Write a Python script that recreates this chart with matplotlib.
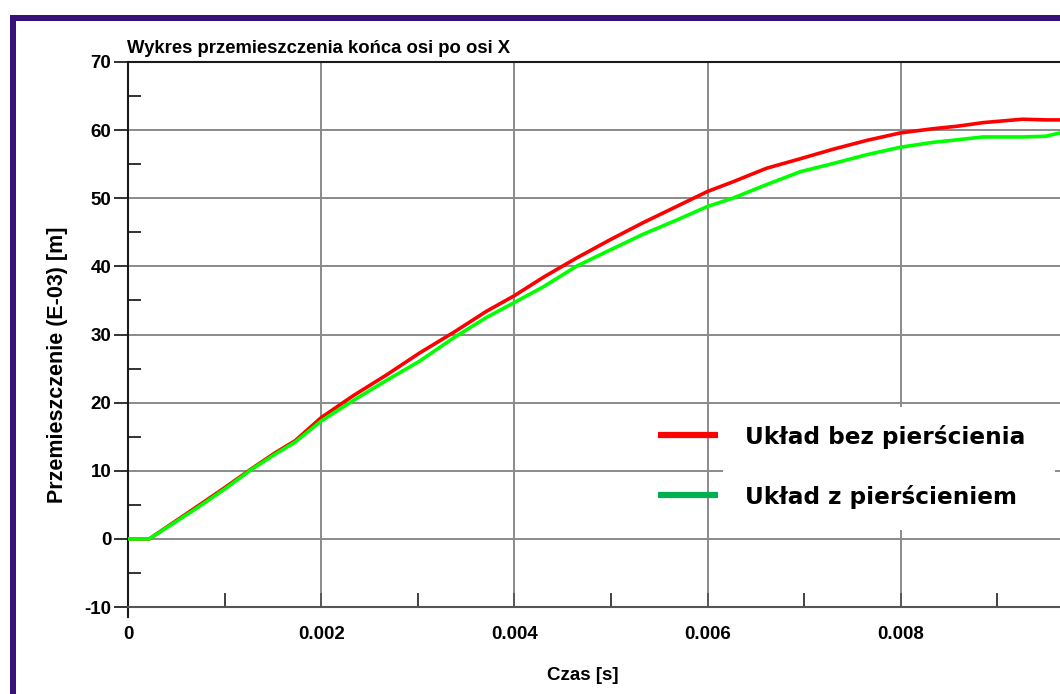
import matplotlib
matplotlib.use("Agg")
import matplotlib.pyplot as plt
from matplotlib.patches import Rectangle
from matplotlib.ticker import MultipleLocator, FixedLocator

plt.rcParams["axes.unicode_minus"] = False

# ---- data ----
time_s = [0, 0.00022, 0.00045, 0.00069, 0.001, 0.00128, 0.00152, 0.00173, 0.002,
          0.00233, 0.00268, 0.00302, 0.00337, 0.00371, 0.004, 0.0043, 0.00464,
          0.00499, 0.00533, 0.00568, 0.006, 0.00626, 0.00661, 0.00696, 0.0073,
          0.00765, 0.008, 0.00833, 0.0086, 0.00885, 0.00926, 0.0095, 0.00965]
bez_pierscienia = [0, 0, 2.2, 4.5, 7.5, 10.3, 12.6, 14.4, 17.8, 21.0, 24.1, 27.3,
                   30.3, 33.4, 35.7, 38.4, 41.2, 43.9, 46.4, 48.8, 51.0, 52.4,
                   54.4, 55.8, 57.2, 58.5, 59.6, 60.2, 60.6, 61.1, 61.6, 61.5, 61.5]
z_pierscieniem = [0, 0, 2.1, 4.3, 7.3, 10.2, 12.4, 14.2, 17.3, 20.3, 23.3, 26.1,
                  29.5, 32.5, 34.7, 37.0, 40.0, 42.4, 44.7, 46.8, 48.8, 50.0,
                  52.0, 53.9, 55.1, 56.4, 57.5, 58.2, 58.6, 59.0, 59.0, 59.1, 59.6]
x_ticks = [0, 0.002, 0.004, 0.006, 0.008]
x_tick_labels = ["0", "0.002", "0.004", "0.006", "0.008"]
y_ticks = [-10, 0, 10, 20, 30, 40, 50, 60, 70]
series_names = ["Układ bez pierścienia", "Układ z pierścieniem"]
title = "Wykres przemieszczenia końca osi po osi X"
xlabel = "Czas [s]"
ylabel = "Przemieszczenie (E-03) [m]"

W, H = 1060, 694
fig = plt.figure(figsize=(W / 100, H / 100), dpi=100)
fig.patch.set_facecolor("white")

def fx(px):
    return px / W

def fy(py):
    return 1 - py / H

ax_left, ax_right, ax_top, ax_bottom = 128, 1060, 62, 607
ax = fig.add_axes([fx(ax_left), fy(ax_bottom), fx(ax_right - ax_left), (ax_bottom - ax_top) / H])

ax.set_xlim(0, (ax_right - ax_left) / 96.6 * 0.001)
ax.set_ylim(-10, 70)

ax.plot(time_s, bez_pierscienia, color="#ff0000", lw=2.6, zorder=3, solid_capstyle="butt")
ax.plot(time_s, z_pierscieniem, color="#00ff00", lw=2.6, zorder=4, solid_capstyle="butt")

ax.xaxis.set_major_locator(FixedLocator(x_ticks))
ax.set_xticklabels(x_tick_labels)
ax.xaxis.set_minor_locator(MultipleLocator(0.001))
ax.yaxis.set_major_locator(FixedLocator(y_ticks))
ax.yaxis.set_minor_locator(MultipleLocator(5))

ax.grid(True, which="major", color="#8a8a8a", lw=1.4, zorder=1)
ax.set_axisbelow(True)

ax.spines["right"].set_visible(False)
for s in ["top", "left", "bottom"]:
    ax.spines[s].set_color("#1a1a1a")
    ax.spines[s].set_linewidth(1.5)
ax.spines["bottom"].set_color("#555555")
ax.spines["left"].set_bounds(-11.5, 70)

ax.tick_params(axis="y", which="major", direction="out", length=10, width=1.3, color="#222222", pad=2)
ax.tick_params(axis="y", which="minor", direction="in", length=9, width=1.3, color="#222222")
ax.tick_params(axis="x", which="major", direction="in", length=10, width=1.3, color="#555555", pad=14)
ax.tick_params(axis="x", which="minor", direction="in", length=10, width=1.3, color="#333333")

for lab in ax.get_xticklabels() + ax.get_yticklabels():
    lab.set_fontfamily("Liberation Sans")
    lab.set_fontweight("bold")
    lab.set_fontsize(13.5)
    lab.set_color("black")

# title
fig.text(fx(127), fy(53), title, fontfamily="Liberation Sans", fontweight="bold", fontsize=13.3,
         color="black", ha="left", va="baseline")
# axis labels
fig.text(fx(57), fy(365), ylabel, rotation=90, fontfamily="Liberation Sans", fontweight="bold",
         fontsize=15.5, ha="center", va="center", color="black")
fig.text(fx(583), fy(676), xlabel, fontfamily="Liberation Sans", fontweight="bold",
         fontsize=13.5, ha="center", va="center", color="black")

# legend area (white box)
fig.add_artist(Rectangle((fx(723), fy(530)), fx(1055 - 723), (530 - 407) / H,
                         transform=fig.transFigure, facecolor="white", edgecolor="none", zorder=5))
leg_colors = ["#ff0000", "#00b050"]
leg_y = [435, 495]
for name, c, yy in zip(series_names, leg_colors, leg_y):
    fig.add_artist(plt.Line2D([fx(658), fx(718)], [fy(yy), fy(yy)], transform=fig.transFigure,
                              color=c, lw=4.5, solid_capstyle="butt", zorder=6))
    fig.text(fx(745), fy(yy + 2), name, fontfamily="DejaVu Sans", fontweight="bold", fontsize=16.7,
             ha="left", va="center", color="black", zorder=7)

# purple frame
frame_c = "#35137a"
fig.add_artist(Rectangle((fx(10), 0), fx(6), fy(15), transform=fig.transFigure,
                         facecolor=frame_c, edgecolor="none", zorder=10))
fig.add_artist(Rectangle((fx(10), fy(21)), 1 - fx(10), 6 / H, transform=fig.transFigure,
                         facecolor=frame_c, edgecolor="none", zorder=10))

fig.savefig("out.png", dpi=100)
